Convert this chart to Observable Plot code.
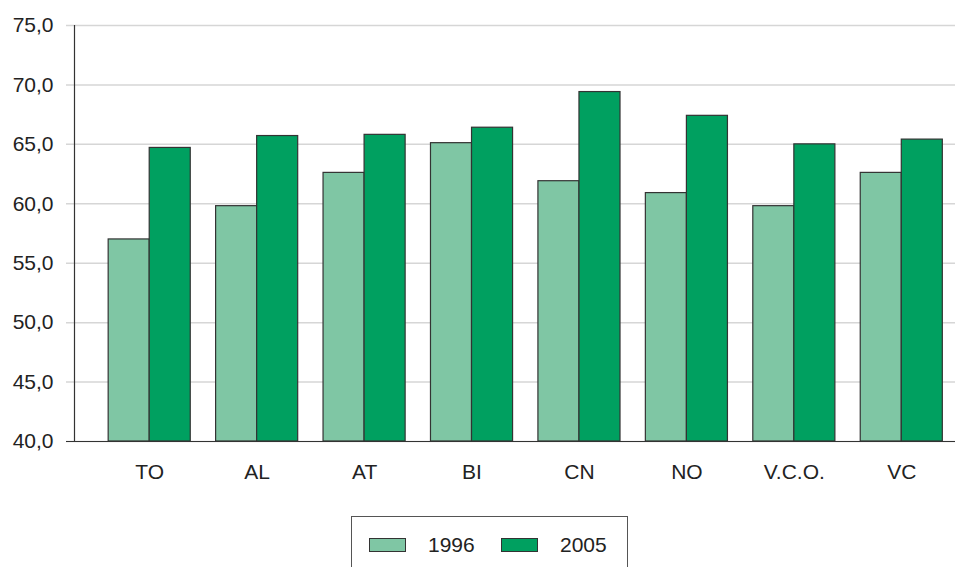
<!DOCTYPE html>
<html>
<head>
<meta charset="utf-8">
<script src="https://cdn.jsdelivr.net/npm/d3@7"></script>
<script src="https://cdn.jsdelivr.net/npm/@observablehq/plot@0.6"></script>
<style>
  html, body { margin: 0; padding: 0; background: #fff; }
  body { width: 955px; height: 567px; overflow: hidden; position: relative; font-family: "Liberation Sans", Arial, sans-serif; }
  #legend { position: absolute; left: 351px; top: 516px; width: 277px; height: 70px; border: 1px solid #555; box-sizing: border-box; }
  .item { position: absolute; top: 16px; display: flex; align-items: center; font-size: 21px; color: #222; }
  .sw { width: 37px; height: 14px; border: 1px solid #333; margin-right: 22px; box-sizing: border-box; }
</style>
</head>
<body>
<div id="chart"></div>
<div id="legend"></div>
<script>
const categories = ["TO", "AL", "AT", "BI", "CN", "NO", "V.C.O.", "VC"];
const values1996 = [57.0, 59.8, 62.6, 65.1, 61.9, 60.9, 59.8, 62.6];
const values2005 = [64.7, 65.7, 65.8, 66.4, 69.4, 67.4, 65.0, 65.4];
const years = ["1996", "2005"];
const colors = ["#7fc6a4", "#00a060"];
const yTicks = [40, 45, 50, 55, 60, 65, 70, 75];

const barW = 0.382; // width of one bar in category units
const data = [];
categories.forEach((c, i) => {
  data.push({cat: c, i, year: "1996", value: values1996[i], x1: i - barW, x2: i});
  data.push({cat: c, i, year: "2005", value: values2005[i], x1: i, x2: i + barW});
});

const fmt = d => d.toFixed(1).replace(".", ",");

const chart = Plot.plot({
  width: 955,
  height: 501,
  marginLeft: 74,
  marginRight: 0,
  marginTop: 25,
  marginBottom: 60,
  style: {fontFamily: "Liberation Sans, Arial, sans-serif", fontSize: "21px", color: "#222", background: "#fff"},
  x: {type: "linear", domain: [-0.7, 7.5], axis: null},
  y: {domain: [40, 75], axis: null},
  color: {domain: years, range: colors},
  marks: [
    Plot.ruleY(yTicks, {stroke: "#d6d6d6", strokeWidth: 1.5, insetLeft: -8}),
    Plot.axisY({ticks: yTicks, tickFormat: fmt, tickSize: 0, tickPadding: 21, fontSize: 21, fill: "#222", label: null}),
    Plot.rectY(data, {x1: "x1", x2: "x2", y1: 40, y2: "value", fill: d => d.year, stroke: "#333", strokeWidth: 1.2}),
    Plot.ruleX([-0.7], {y1: 40, y2: 75, stroke: "#333", strokeWidth: 1.2}),
    Plot.ruleY([40], {stroke: "#333", strokeWidth: 1.2, insetLeft: -8}),
    Plot.axisX({ticks: categories.map((c, i) => i), tickFormat: i => categories[i], tickSize: 0, tickPadding: 23, fontSize: 21, fill: "#222", label: null})
  ]
});
document.getElementById("chart").appendChild(chart);

const legend = document.getElementById("legend");
const lefts = [17, 149];
years.forEach((y, k) => {
  const item = document.createElement("div");
  item.className = "item";
  item.style.left = lefts[k] + "px";
  const sw = document.createElement("div");
  sw.className = "sw";
  sw.style.background = colors[k];
  const t = document.createElement("span");
  t.textContent = y;
  item.appendChild(sw);
  item.appendChild(t);
  legend.appendChild(item);
});
</script>
</body>
</html>
